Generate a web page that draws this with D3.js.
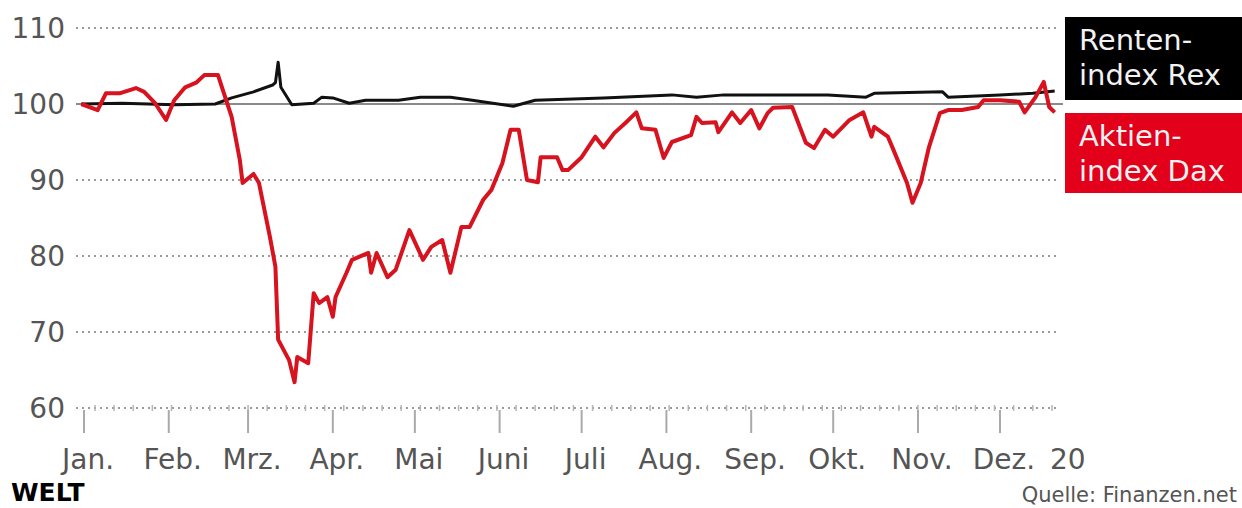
<!DOCTYPE html>
<html>
<head>
<meta charset="utf-8">
<script src="https://cdn.jsdelivr.net/npm/d3@7"></script>
<style>
  body { margin: 0; background: #fff; }
  svg { display: block; font-family: "DejaVu Sans", sans-serif; }
</style>
</head>
<body>
<div id="chart"></div>
<script>
var width  = 1242;
var height = 508;

// Aktienindex Dax, indexiert (31.12.2019 = 100)
var daxDates = ["2019-12-31","2020-01-06","2020-01-09","2020-01-14","2020-01-20","2020-01-23","2020-01-27","2020-01-31",
  "2020-02-03","2020-02-07","2020-02-11","2020-02-14","2020-02-19","2020-02-21","2020-02-24","2020-02-27","2020-02-28",
  "2020-03-03","2020-03-05","2020-03-09","2020-03-11","2020-03-12","2020-03-16","2020-03-18","2020-03-19","2020-03-23",
  "2020-03-25","2020-03-27","2020-03-30","2020-04-01","2020-04-02","2020-04-06","2020-04-08","2020-04-14","2020-04-15",
  "2020-04-17","2020-04-21","2020-04-24","2020-04-29","2020-05-04","2020-05-07","2020-05-11","2020-05-14","2020-05-18",
  "2020-05-21","2020-05-26","2020-05-29","2020-06-02","2020-06-05","2020-06-08","2020-06-10","2020-06-11","2020-06-15",
  "2020-06-16","2020-06-22","2020-06-24","2020-06-26","2020-07-01","2020-07-06","2020-07-09","2020-07-13","2020-07-17",
  "2020-07-21","2020-07-23","2020-07-28","2020-07-31","2020-08-03","2020-08-10","2020-08-12","2020-08-14","2020-08-19",
  "2020-08-20","2020-08-25","2020-08-28","2020-09-01","2020-09-04","2020-09-07","2020-09-09","2020-09-16","2020-09-21",
  "2020-09-24","2020-09-28","2020-10-01","2020-10-07","2020-10-12","2020-10-15","2020-10-16","2020-10-21","2020-10-23",
  "2020-10-28","2020-10-30","2020-11-02","2020-11-05","2020-11-09","2020-11-12","2020-11-17","2020-11-23","2020-11-25",
  "2020-12-01","2020-12-08","2020-12-10","2020-12-14","2020-12-17","2020-12-19","2020-12-21"];
var daxValues = [100.0,99.2,101.4,101.4,102.1,101.6,100.1,97.9,
  100.5,102.2,102.8,103.8,103.8,101.6,98.3,92.6,89.6,
  90.8,89.6,82.5,78.6,69.0,66.3,63.4,66.7,65.9,
  75.1,73.8,74.6,72.0,74.6,77.8,79.5,80.4,77.8,
  80.4,77.2,78.2,83.4,79.5,81.2,82.1,77.8,83.8,
  83.8,87.4,88.7,92.2,96.6,96.6,92.2,90.0,89.7,
  93.0,93.0,91.3,91.3,93.0,95.7,94.3,96.2,97.5,
  98.9,96.8,96.6,92.9,95.0,95.9,98.3,97.5,97.6,
  96.3,98.9,97.5,99.2,96.8,98.8,99.5,99.6,94.9,
  94.2,96.6,95.7,97.9,98.9,95.7,97.0,95.7,94.0,
  89.6,87.0,89.6,94.3,98.8,99.2,99.2,99.6,100.5,
  100.5,100.3,98.9,100.9,102.9,99.6,98.9];

// Rentenindex Rex, indexiert
var rexDates = ["2019-12-31","2020-01-15","2020-02-03","2020-02-18","2020-02-24","2020-03-03","2020-03-10","2020-03-11",
  "2020-03-12","2020-03-13","2020-03-17","2020-03-25","2020-03-28","2020-04-01","2020-04-07","2020-04-13","2020-04-25",
  "2020-05-03","2020-05-14","2020-05-22","2020-06-06","2020-06-14","2020-07-09","2020-08-03","2020-08-12","2020-08-22",
  "2020-09-09","2020-09-29","2020-10-13","2020-10-16","2020-11-10","2020-11-12","2020-12-01","2020-12-13","2020-12-21"];
var rexValues = [100.0,100.1,99.9,100.0,100.8,101.6,102.5,102.8,
  105.5,102.2,99.9,100.1,100.9,100.8,100.1,100.5,100.5,
  100.9,100.9,100.5,99.7,100.5,100.8,101.2,100.9,101.2,
  101.2,101.2,100.9,101.4,101.6,100.9,101.2,101.4,101.7];

var yTicks      = [60, 70, 80, 90, 100, 110];
var monthLabels = ["Jan.","Feb.","Mrz.","Apr.","Mai","Juni","Juli","Aug.","Sep.","Okt.","Nov.","Dez."];

var parse = d3.timeParse("%Y-%m-%d");
var dax = daxDates.map(function(d, i) { return {date: parse(d), value: daxValues[i]}; });
var rex = rexDates.map(function(d, i) { return {date: parse(d), value: rexValues[i]}; });

var x = d3.scaleTime()
  .domain([new Date(2020, 0, 1), new Date(2020, 11, 1)])
  .range([84, 1000]);
var y = d3.scaleLinear().domain([60, 110]).range([408, 28]);

var gridLeft = 76, gridRight = 1057;

var svg = d3.select("#chart").append("svg")
  .attr("width", width)
  .attr("height", height);

// dotted grid lines
svg.append("g").selectAll("line")
  .data(yTicks.filter(function(d) { return d !== 100; }))
  .enter().append("line")
  .attr("x1", gridLeft).attr("x2", gridRight)
  .attr("y1", function(d) { return y(d); })
  .attr("y2", function(d) { return y(d); })
  .attr("stroke", "#9a9a9a")
  .attr("stroke-width", 2)
  .attr("stroke-dasharray", "2,4");

// baseline at 100
svg.append("line")
  .attr("x1", gridLeft).attr("x2", 1063)
  .attr("y1", y(100)).attr("y2", y(100))
  .attr("stroke", "#8a8a8a")
  .attr("stroke-width", 2);

// weekly minor ticks on the bottom line
svg.append("g").selectAll("line")
  .data(d3.timeWeek.range(new Date(2020, 0, 1), x.invert(gridRight)))
  .enter().append("line")
  .attr("x1", function(d) { return x(d); })
  .attr("x2", function(d) { return x(d); })
  .attr("y1", y(60) - 3).attr("y2", y(60) + 3)
  .attr("stroke", "#b5b5b5")
  .attr("stroke-width", 1.5);

// y labels
svg.append("g").selectAll("text")
  .data(yTicks)
  .enter().append("text")
  .attr("x", 65)
  .attr("y", function(d) { return y(d); })
  .attr("dy", "0.36em")
  .attr("text-anchor", "end")
  .attr("fill", "#555")
  .style("font-size", "28px")
  .text(function(d) { return d; });

// month ticks + labels
var months = d3.timeMonth.range(new Date(2020, 0, 1), new Date(2020, 11, 2));
var xAxis = svg.append("g");
xAxis.selectAll("line")
  .data(months)
  .enter().append("line")
  .attr("x1", function(d) { return x(d); })
  .attr("x2", function(d) { return x(d); })
  .attr("y1", 410).attr("y2", 433)
  .attr("stroke", "#aaa")
  .attr("stroke-width", 2);
xAxis.selectAll("text")
  .data(months)
  .enter().append("text")
  .attr("x", function(d) { return x(d) + 4; })
  .attr("y", 469)
  .attr("text-anchor", "middle")
  .attr("fill", "#555")
  .style("font-size", "28px")
  .text(function(d, i) { return monthLabels[i]; });
svg.append("text")
  .attr("x", 1050).attr("y", 469)
  .attr("fill", "#555")
  .style("font-size", "28px")
  .text("20");

var line = d3.line()
  .x(function(d) { return x(d.date); })
  .y(function(d) { return y(d.value); })
  .curve(d3.curveLinear);

svg.append("path")
  .datum(rex)
  .attr("d", line)
  .attr("fill", "none")
  .attr("stroke", "#111")
  .attr("stroke-width", 3)
  .attr("stroke-linejoin", "round");

svg.append("path")
  .datum(dax)
  .attr("d", line)
  .attr("fill", "none")
  .attr("stroke", "#d7131f")
  .attr("stroke-width", 4)
  .attr("stroke-linejoin", "round");

// series labels
function labelBox(y0, h, fill, lines) {
  svg.append("rect")
    .attr("x", 1065).attr("y", y0)
    .attr("width", 177).attr("height", h)
    .attr("fill", fill);
  svg.append("text")
    .attr("x", 1079).attr("y", y0 + 33)
    .attr("fill", "#f2f2f2")
    .style("font-size", "29px")
    .selectAll("tspan")
    .data(lines)
    .enter().append("tspan")
    .attr("x", 1079)
    .attr("dy", function(d, i) { return i ? 35 : 0; })
    .text(function(d) { return d; });
}
labelBox(17, 83, "#000", ["Renten-", "index Rex"]);
labelBox(113, 80, "#e2001a", ["Aktien-", "index Dax"]);

// footer
svg.append("text")
  .attr("x", 11).attr("y", 501)
  .attr("fill", "#000")
  .style("font-size", "25px")
  .style("font-weight", "bold")
  .text("WELT");
svg.append("text")
  .attr("x", 1237).attr("y", 502)
  .attr("text-anchor", "end")
  .attr("fill", "#555")
  .style("font-size", "21px")
  .text("Quelle: Finanzen.net");
</script>
</body>
</html>
